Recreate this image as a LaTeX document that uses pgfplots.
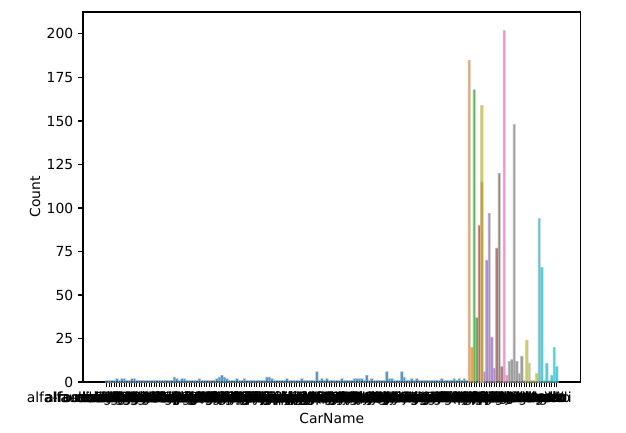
\documentclass[border=0pt]{standalone}
\usepackage{fontspec}
\setmainfont{DejaVu Sans}
\usepackage{pgfplots}
\pgfplotsset{compat=1.18}
\definecolor{tabblue}{HTML}{1F77B4}
\definecolor{taborange}{HTML}{FF7F0E}
\definecolor{tabgreen}{HTML}{2CA02C}
\definecolor{tabred}{HTML}{D62728}
\definecolor{tabpurple}{HTML}{9467BD}
\definecolor{tabbrown}{HTML}{8C564B}
\definecolor{tabpink}{HTML}{E377C2}
\definecolor{tabgray}{HTML}{7F7F7F}
\definecolor{tabolive}{HTML}{BCBD22}
\definecolor{tabcyan}{HTML}{17BECF}
\pgfplotsset{
  histbar/.style={ybar, bar width=1, bar shift=0pt, fill=#1, fill opacity=0.75,
    draw=black!20, draw opacity=0.5, line width=0.2pt, mark=none}
}
\begin{document}
\begin{tikzpicture}
\begin{axis}[
  scale only axis, width=358.2pt, height=266.4pt,
  xmin=-9.55, xmax=189.55, ymin=0, ymax=212.6,
  axis line style={line width=0.8pt},
  tick style={line width=0.8pt, black},
  major tick length=3.5pt, tick align=outside,
  xtick pos=bottom, ytick pos=left,
  ytick={0,25,50,75,100,125,150,175,200},
  /pgf/number format/assume math mode=true,
  xtick={0,...,180},
  xticklabels={
  {alfa-romero giulia},{alfa-romero stelvio},{alfa-romero Quadrifoglio},{audi 100 ls},{audi 100ls},{audi fox},{audi 5000},{audi 4000},{audi 5000s (diesel)},{bmw 320i},
  {bmw x1},{bmw x3},{bmw z4},{bmw x4},{bmw x5},{chevrolet impala},{chevrolet monte carlo},{chevrolet vega 2300},{dodge rampage},{dodge challenger se},
  {dodge d200},{dodge monaco (sw)},{dodge colt hardtop},{dodge colt (sw)},{dodge coronet custom},{dodge dart custom},{dodge coronet custom (sw)},{honda civic},{honda civic cvcc},{honda accord cvcc},
  {honda accord lx},{honda civic 1500 gl},{honda accord},{honda civic 1300},{honda prelude},{honda civic (auto)},{isuzu MU-X},{isuzu D-Max},{isuzu D-Max V-Cross},{jaguar xj},
  {jaguar xf},{jaguar xk},{maxda rx3},{maxda glc deluxe},{mazda rx2 coupe},{mazda rx-4},{mazda glc deluxe},{mazda 626},{mazda glc},{mazda rx-7 gs},
  {mazda glc 4},{mazda glc custom l},{mazda glc custom},{buick electra 225 custom},{buick century luxus (sw)},{buick century},{buick skyhawk},{buick opel isuzu deluxe},{buick skylark},{buick century special},
  {buick regal sport coupe (turbo)},{mercury cougar},{mitsubishi mirage},{mitsubishi lancer},{mitsubishi outlander},{mitsubishi g4},{mitsubishi mirage g4},{mitsubishi montero},{mitsubishi pajero},{Nissan versa},
  {nissan gt-r},{nissan rogue},{nissan latio},{nissan titan},{nissan leaf},{nissan juke},{nissan note},{nissan clipper},{nissan nv200},{nissan dayz},
  {nissan fuga},{nissan otti},{nissan teana},{nissan kicks},{peugeot 504},{peugeot 304},{peugeot 504 (sw)},{peugeot 604sl},{peugeot 505s turbo diesel},{plymouth fury iii},
  {plymouth cricket},{plymouth satellite custom (sw)},{plymouth fury gran sedan},{plymouth valiant},{plymouth duster},{porsche macan},{porcshce panamera},{porsche cayenne},{porsche boxter},{renault 12tl},
  {renault 5 gtl},{saab 99e},{saab 99le},{saab 99gle},{subaru},{subaru dl},{subaru brz},{subaru baja},{subaru r1},{subaru r2},
  {subaru trezia},{subaru tribeca},{toyota corona mark ii},{toyota corona},{toyota corolla 1200},{toyota corona hardtop},{toyota corolla 1600 (sw)},{toyota carina},{toyota mark ii},{toyota corolla},
  {toyota corolla liftback},{toyota celica gt liftback},{toyota corolla tercel},{toyota corona liftback},{toyota starlet},{toyota tercel},{toyota cressida},{toyota celica gt},{toyouta tercel},{vokswagen rabbit},
  {volkswagen 1131 deluxe sedan},{volkswagen model 111},{volkswagen type 3},{volkswagen 411 (sw)},{volkswagen super beetle},{volkswagen dasher},{vw dasher},{vw rabbit},{volkswagen rabbit},{volkswagen rabbit custom},
  {volvo 145e (sw)},{volvo 144ea},{volvo 244dl},{volvo 245},{volvo 264gl},{volvo diesel},{volvo 246},
  {alfa-romero},{chevrolet},{dodge},{honda},{jaguar},{maxda},{mazda},{buick},{mercury},{mitsubishi},
  {nissan},{peugeot},{plymouth},{porsche},{porcshce},{renault},{subaru},{toyota},{toyouta},{vokswagen},
  {volkswagen},{volvo},{Nissan},
  {isuzu},{jaguar x},{mazda},{nissan},{subaru},{toyota},{saab},{bmw},{volvo},{vw},{audi}
  },
  xlabel={CarName}, ylabel={Count},
  xlabel style={at={(axis description cs:0.5,-0.0973)}, anchor=center},
  ylabel style={at={(axis description cs:-0.0965,0.5)}, anchor=center},
]
\addplot[histbar=tabblue] coordinates {
(0,1)(1,1)(2,1)(3,1)(4,2)(5,1)(6,2)(7,2)(8,1)(9,1)(10,2)(11,2)(12,1)(13,1)(14,1)(15,1)(16,1)(17,1)(18,1)(19,1)
(20,1)(21,1)(22,1)(23,1)(24,1)(25,1)(26,1)(27,3)(28,2)(29,1)(30,2)(31,2)(32,1)(33,1)(34,1)(35,1)(36,1)(37,2)(38,1)(39,1)
(40,1)(41,1)(42,1)(43,1)(44,2)(45,3)(46,4)(47,3)(48,2)(49,1)(50,1)(51,1)(52,2)(53,1)(54,1)(55,2)(56,1)(57,1)(58,1)(59,1)
(60,1)(61,1)(62,1)(63,1)(64,3)(65,3)(66,2)(67,1)(68,1)(69,1)(70,1)(71,1)(72,2)(73,1)(74,1)(75,1)(76,1)(77,1)(78,2)(79,1)
(80,1)(81,1)(82,1)(83,1)(84,6)(85,1)(86,2)(87,1)(88,2)(89,1)(90,1)(91,1)(92,1)(93,1)(94,2)(95,1)(96,1)(97,1)(98,1)(99,2)
(100,2)(101,2)(102,2)(103,1)(104,4)(105,1)(106,2)(107,1)(108,1)(109,1)(110,1)(111,1)(112,6)(113,2)(114,2)(115,1)(116,1)(117,1)(118,6)(119,3)
(120,1)(121,1)(122,2)(123,1)(124,2)(125,1)(126,1)(127,1)(128,1)(129,1)(130,1)(131,1)(132,1)(133,1)(134,2)(135,1)(136,1)(137,1)(138,1)(139,2)
(140,1)(141,2)(142,1)(143,2)(144,1)
};
\addplot[histbar=taborange] coordinates {(145,185)(146,20)};
\addplot[histbar=tabgreen] coordinates {(147,168)(148,37)};
\addplot[histbar=tabred] coordinates {(149,90)(150,115)};
\addplot[histbar=tabpurple] coordinates {(151,6)(152,70)(153,97)(154,26)(155,8)};
\addplot[histbar=tabbrown] coordinates {(156,77)(157,120)(158,9)};
\addplot[histbar=tabpink] coordinates {(159,202)(160,4)};
\addplot[histbar=tabgray] coordinates {(161,12)(162,13)(163,148)(164,12)(165,5)(166,15)(167,1)};
\addplot[histbar=tabolive] coordinates {(150,159)(168,24)(169,11)(170,1)(171,1)(172,5)};
\addplot[histbar=tabcyan] coordinates {(173,94)(174,66)(175,1)(176,11)(177,1)(178,4)(179,20)(180,9)};
\end{axis}
\pgfresetboundingbox
\path[use as bounding box] ([shift={(-59.76pt,-36pt)}]current axis.south west) rectangle ([shift={(32.76pt,8.64pt)}]current axis.north east);
\end{tikzpicture}
\end{document}
